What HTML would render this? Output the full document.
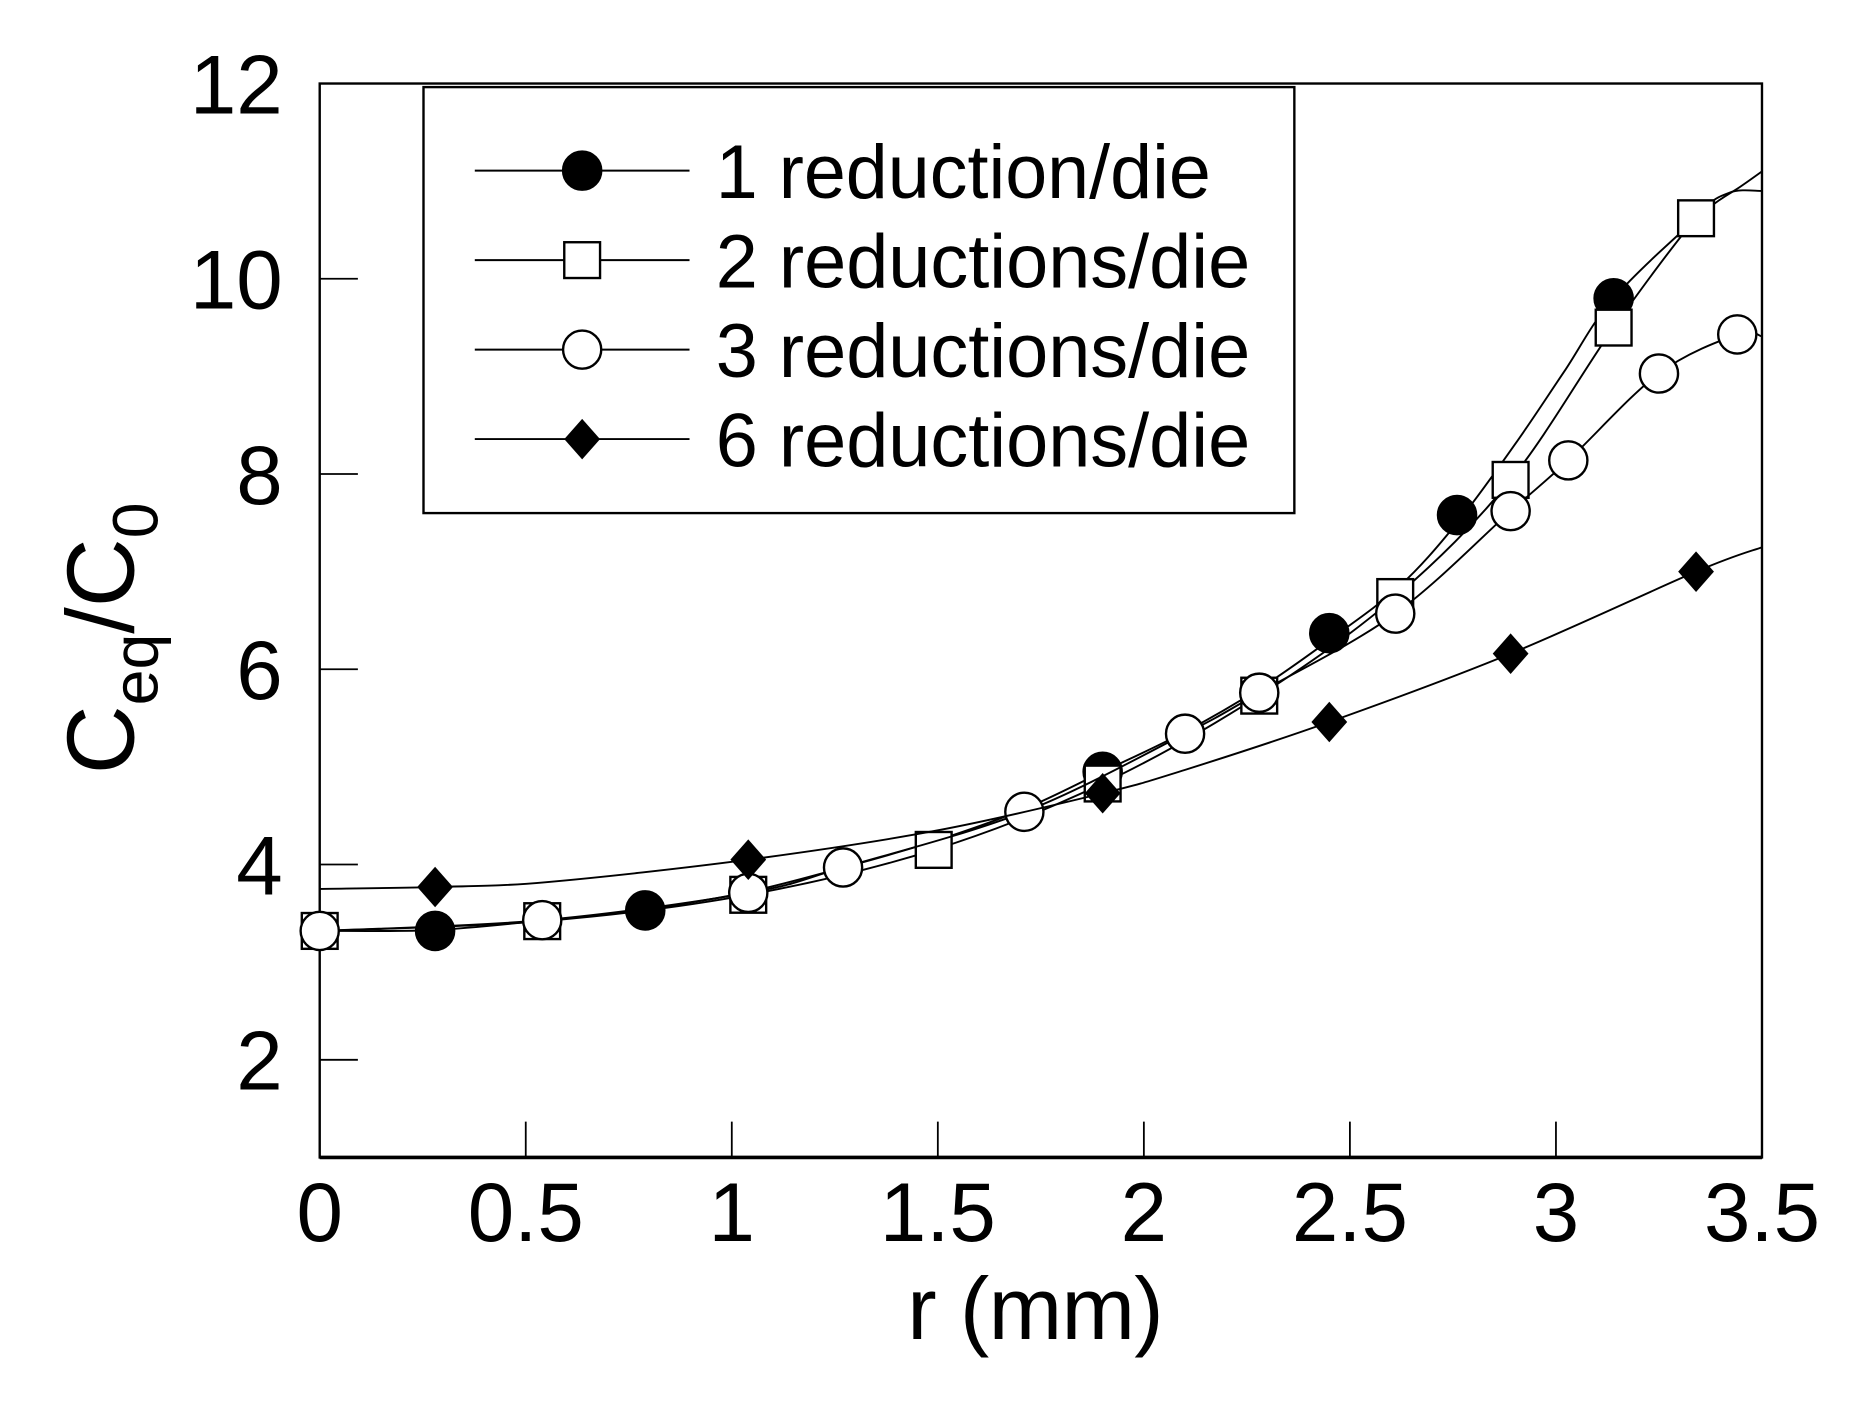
<!DOCTYPE html>
<html><head><meta charset="utf-8"><style>
html,body{margin:0;padding:0;background:#fff;}
svg{display:block;font-family:"Liberation Sans",Arial,sans-serif;}
</style></head><body>
<svg id="chart" width="1861" height="1408" viewBox="0 0 1560 1180" preserveAspectRatio="none" xmlns="http://www.w3.org/2000/svg">
<rect x="0" y="0" width="1560" height="1180" fill="#fff"/>
<g id="axes"></g>
<g id="series"></g>
<g id="legend">
<rect x="355" y="73" width="730" height="357" fill="#fff" stroke="#000" stroke-width="2"/>
</g>
<text x="868" y="1122" font-size="74" text-anchor="middle" textLength="215">r (mm)</text>
<text transform="translate(112,535) rotate(-90)" font-size="80" text-anchor="middle">C<tspan font-size="54" dy="20">eq</tspan><tspan dy="-20">/C</tspan><tspan font-size="54" dy="20">0</tspan></text>
</svg>
<script>
const xTicks=[0,0.5,1,1.5,2,2.5,3,3.5];
const xTickLabels=["0","0.5","1","1.5","2","2.5","3","3.5"];
const yTicks=[2,4,6,8,10,12];
const yTickLabels=["2","4","6","8","10","12"];
const seriesNames=["1 reduction/die","2 reductions/die","3 reductions/die","6 reductions/die"];
const s1LineR=[0,0.28,0.55,0.79,1.04,1.28,1.5,1.71,1.9,2.1,2.28,2.45,2.62,2.76,2.9,3.02,3.14,3.35,3.45,3.5];
const s1LineV=[3.32,3.33,3.43,3.54,3.72,3.98,4.25,4.57,4.95,5.36,5.8,6.3,6.85,7.5,8.3,9.05,9.8,10.65,10.95,11.1];
const s1MarkR=[0.28,0.79,1.9,2.45,2.76,3.14];
const s1MarkV=[3.32,3.53,4.95,6.37,7.58,9.8];
const s2R=[0,0.54,1.04,1.49,1.9,2.28,2.61,2.89,3.14,3.34,3.42,3.5];
const s2V=[3.32,3.42,3.69,4.15,4.83,5.73,6.74,7.94,9.5,10.62,10.88,10.9];
const s2MarkR=[0,0.54,1.04,1.49,1.9,2.28,2.61,2.89,3.14,3.34];
const s2MarkV=[3.32,3.42,3.69,4.15,4.83,5.73,6.74,7.94,9.5,10.62];
const s3R=[0,0.54,1.04,1.27,1.71,2.1,2.28,2.61,2.89,3.03,3.25,3.44,3.5];
const s3V=[3.32,3.43,3.71,3.97,4.54,5.34,5.76,6.57,7.62,8.14,9.03,9.43,9.41];
const s3MarkR=[0,0.54,1.04,1.27,1.71,2.1,2.28,2.61,2.89,3.03,3.25,3.44];
const s3MarkV=[3.32,3.43,3.71,3.97,4.54,5.34,5.76,6.57,7.62,8.14,9.03,9.43];
const s4R=[0,0.28,0.55,1.04,1.5,1.9,2.1,2.45,2.89,3.34,3.5];
const s4V=[3.75,3.77,3.82,4.05,4.35,4.73,4.97,5.46,6.16,7.0,7.25];
const s4MarkR=[0.28,1.04,1.9,2.45,2.89,3.34];
const s4MarkV=[3.77,4.05,4.73,5.46,6.16,7.0];

const NS="http://www.w3.org/2000/svg";
const X0=268,X1=1477,Y0=970,Y1=70,XMIN=0,XMAX=3.5,YMIN=1,YMAX=12;
function xs(v){return X0+(v-XMIN)/(XMAX-XMIN)*(X1-X0);}
function ys(v){return Y0-(v-YMIN)/(YMAX-YMIN)*(Y0-Y1);}
function mk(tag,attrs,parent){const e=document.createElementNS(NS,tag);for(const k in attrs)e.setAttribute(k,attrs[k]);parent.appendChild(e);return e;}
const axes=document.getElementById('axes');
const ser=document.getElementById('series');
const leg=document.getElementById('legend');

let frame=mk('rect',{x:X0,y:Y1,width:X1-X0,height:Y0-Y1,fill:'none',stroke:'#000','stroke-width':2},axes);


let xb=mk('line',{x1:X0,y1:Y0,x2:X1,y2:Y0,stroke:'#000','stroke-width':3},axes);



xTicks.forEach((t,i)=>{
  const x=xs(t);
  if(i>0&&i<xTicks.length-1){
    const tk=mk('line',{x1:x,y1:Y0,x2:x,y2:Y0-30,stroke:'#000','stroke-width':1.5},axes);
    
    
  }
  const lb=mk('text',{x:x,y:1040,'font-size':70,'text-anchor':'middle'},axes);
  lb.textContent=xTickLabels[i];
  
  
});
yTicks.forEach((t,i)=>{
  const y=ys(t);
  if(t<YMAX){
    const tk=mk('line',{x1:X0,y1:y,x2:X0+32,y2:y,stroke:'#000','stroke-width':1.5},axes);
    
    
  }
  const lb=mk('text',{x:237,y:y+25,'font-size':70,'text-anchor':'end'},axes);
  lb.textContent=yTickLabels[i];
  
  
});

function drawMarker(type,cx,cy,parent,name){
  let e;
  if(type==='fcircle') e=mk('circle',{cx:cx,cy:cy,r:16,fill:'#000',stroke:'#000','stroke-width':2},parent);
  else if(type==='ocircle') e=mk('circle',{cx:cx,cy:cy,r:16,fill:'#fff',stroke:'#000','stroke-width':2},parent);
  else if(type==='square') e=mk('rect',{x:cx-15,y:cy-15,width:30,height:30,fill:'#fff',stroke:'#000','stroke-width':2},parent);
  else e=mk('polygon',{points:`${cx},${cy-17} ${cx+15},${cy} ${cx},${cy+17} ${cx-15},${cy}`,fill:'#000'},parent);
  
  
}
function smoothPath(px,py){
  let d='M'+px[0].toFixed(1)+','+py[0].toFixed(1);
  for(let i=0;i<px.length-1;i++){
    const i0=Math.max(0,i-1),i3=Math.min(px.length-1,i+2);
    const c1x=px[i]+(px[i+1]-px[i0])/6,c1y=py[i]+(py[i+1]-py[i0])/6;
    const c2x=px[i+1]-(px[i3]-px[i])/6,c2y=py[i+1]-(py[i3]-py[i])/6;
    d+=` C${c1x.toFixed(1)},${c1y.toFixed(1)} ${c2x.toFixed(1)},${c2y.toFixed(1)} ${px[i+1].toFixed(1)},${py[i+1].toFixed(1)}`;
  }
  return d;
}
const defs=[
 {lr:s1LineR,lv:s1LineV,mr:s1MarkR,mv:s1MarkV,type:'fcircle',key:'series-1-reduction'},
 {lr:s2R,lv:s2V,mr:s2MarkR,mv:s2MarkV,type:'square',key:'series-2-reductions'},
 {lr:s3R,lv:s3V,mr:s3MarkR,mv:s3MarkV,type:'ocircle',key:'series-3-reductions'},
 {lr:s4R,lv:s4V,mr:s4MarkR,mv:s4MarkV,type:'diamond',key:'series-6-reductions'}
];
const groups=[];
defs.forEach(d=>{
  const g=mk('g',{},ser);
  
  
  groups.push(g);
  const pl=mk('path',{d:smoothPath(d.lr.map(xs),d.lv.map(ys)),fill:'none',stroke:'#000','stroke-width':1.6},g);
  
  
});
defs.forEach((d,k)=>{
  d.mr.forEach((r,i)=>drawMarker(d.type,xs(r),ys(d.mv[i]),groups[k],d.key+'-point'));
});
const legY=[143,218,293,368];
const legLen=[415,448,448,448];
defs.forEach((d,i)=>{
  const g=mk('g',{},leg);
  
  
  const ln=mk('line',{x1:398,y1:legY[i],x2:578,y2:legY[i],stroke:'#000','stroke-width':1.6},g);
  
  
  drawMarker(d.type,488,legY[i],g,'legend-marker');
  const t=mk('text',{x:600,y:legY[i]+23,'font-size':64,textLength:legLen[i],lengthAdjust:'spacingAndGlyphs'},g);
  t.textContent=seriesNames[i];
  
  
});
</script>
</body></html>
